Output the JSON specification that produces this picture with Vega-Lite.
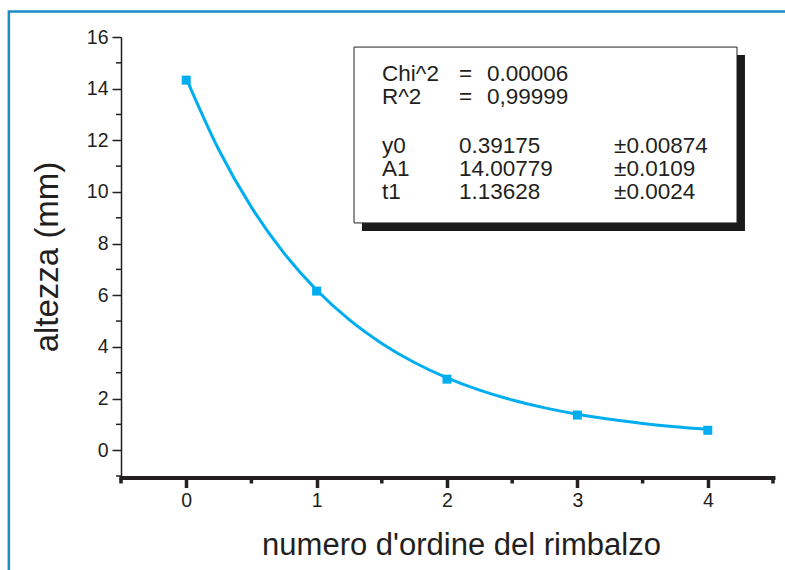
{
  "$schema": "https://vega.github.io/schema/vega-lite/v6.json",
  "autosize": {"type": "none"},
  "padding": {"left": 121, "top": 37, "right": 12, "bottom": 94},
  "width": 652,
  "height": 439,
  "background": "white",
  "config": {
    "view": {"stroke": null},
    "font": "Liberation Sans",
    "axis": {"grid": false, "domainColor": "#231f20", "tickColor": "#231f20", "labelColor": "#231f20", "titleColor": "#231f20", "labelFont": "Liberation Sans", "titleFont": "Liberation Sans", "titleFontWeight": "normal", "labelOverlap": false},
    "text": {"align": "left", "baseline": "alphabetic", "fontSize": 22.5, "lineHeight": 23, "color": "#231f20"}
  },
  "datasets": {
    "points": [
      {"bounce": 0, "height": 14.33},
      {"bounce": 1, "height": 6.16},
      {"bounce": 2, "height": 2.75},
      {"bounce": 3, "height": 1.36},
      {"bounce": 4, "height": 0.77}
    ],
    "fit": [
      {"bounce": 0, "height": 14.40},
      {"bounce": 0.25, "height": 11.633},
      {"bounce": 0.5, "height": 9.413},
      {"bounce": 0.75, "height": 7.631},
      {"bounce": 1, "height": 6.202},
      {"bounce": 1.25, "height": 5.054},
      {"bounce": 1.5, "height": 4.134},
      {"bounce": 1.75, "height": 3.395},
      {"bounce": 2, "height": 2.802},
      {"bounce": 2.25, "height": 2.326},
      {"bounce": 2.5, "height": 1.944},
      {"bounce": 2.75, "height": 1.637},
      {"bounce": 3, "height": 1.391},
      {"bounce": 3.25, "height": 1.194},
      {"bounce": 3.5, "height": 1.036},
      {"bounce": 3.75, "height": 0.908},
      {"bounce": 4, "height": 0.806}
    ],
    "yminor": [
      {"v": -1}, {"v": 1}, {"v": 3}, {"v": 5}, {"v": 7}, {"v": 9}, {"v": 11}, {"v": 13}, {"v": 15}
    ],
    "xminor": [
      {"u": -0.5}, {"u": 0.5}, {"u": 1.5}, {"u": 2.5}, {"u": 3.5}, {"u": 4.5}
    ],
    "one": [{}]
  },
  "layer": [
    {
      "data": {"name": "one"},
      "mark": {"type": "rect", "filled": false, "stroke": "#1b8cc6", "strokeWidth": 2.5},
      "encoding": {
        "x": {"datum": -1.36, "type": "quantitative", "scale": {"domain": [-0.5, 4.5], "nice": false, "zero": false}, "axis": {
          "title": "numero d'ordine del rimbalzo",
          "titleFontSize": 31,
          "titlePadding": 20,
          "titleX": 340,
          "values": [0, 1, 2, 3, 4],
          "format": ".0f",
          "labelFontSize": 19.5,
          "labelPadding": 4,
          "domainWidth": 4,
          "domainCap": "square",
          "offset": 1.5,
          "tickWidth": 3.5,
          "tickSize": 10
        }},
        "x2": {"datum": 5.5},
        "y": {"datum": 16.99, "type": "quantitative", "scale": {"domain": [-1, 16], "nice": false, "zero": false}, "axis": {
          "title": "altezza (mm)",
          "titleFontSize": 33,
          "titlePadding": 22,
          "values": [0, 2, 4, 6, 8, 10, 12, 14, 16],
          "format": ".0f",
          "labelFontSize": 19.5,
          "labelPadding": 4,
          "domainWidth": 1.5,
          "tickWidth": 1.5,
          "tickSize": 9
        }},
        "y2": {"datum": -10}
      }
    },
    {
      "data": {"name": "one"},
      "mark": {"type": "rect", "fill": "#1a1a1a"},
      "encoding": {
        "x": {"datum": 1.348, "type": "quantitative"},
        "x2": {"datum": 4.285},
        "y": {"datum": 15.30, "type": "quantitative"},
        "y2": {"datum": 8.49}
      }
    },
    {
      "data": {"name": "one"},
      "mark": {"type": "rect", "fill": "white", "stroke": "#231f20", "strokeWidth": 1},
      "encoding": {
        "x": {"datum": 1.287, "type": "quantitative"},
        "x2": {"datum": 4.224},
        "y": {"datum": 15.61, "type": "quantitative"},
        "y2": {"datum": 8.80}
      }
    },
    {
      "data": {"name": "one"},
      "mark": {"type": "text", "text": ["Chi^2", "R^2"]},
      "encoding": {"x": {"datum": 1.502, "type": "quantitative"}, "y": {"datum": 14.307, "type": "quantitative"}}
    },
    {
      "data": {"name": "one"},
      "mark": {"type": "text", "text": ["=", "="]},
      "encoding": {"x": {"datum": 2.092, "type": "quantitative"}, "y": {"datum": 14.307, "type": "quantitative"}}
    },
    {
      "data": {"name": "one"},
      "mark": {"type": "text", "text": ["0.00006", "0,99999"]},
      "encoding": {"x": {"datum": 2.307, "type": "quantitative"}, "y": {"datum": 14.307, "type": "quantitative"}}
    },
    {
      "data": {"name": "one"},
      "mark": {"type": "text", "text": ["y0", "A1", "t1"]},
      "encoding": {"x": {"datum": 1.502, "type": "quantitative"}, "y": {"datum": 11.507, "type": "quantitative"}}
    },
    {
      "data": {"name": "one"},
      "mark": {"type": "text", "text": ["0.39175", "14.00779", "1.13628"]},
      "encoding": {"x": {"datum": 2.092, "type": "quantitative"}, "y": {"datum": 11.507, "type": "quantitative"}}
    },
    {
      "data": {"name": "one"},
      "mark": {"type": "text", "text": ["±0.00874", "±0.0109", "±0.0024"]},
      "encoding": {"x": {"datum": 3.281, "type": "quantitative"}, "y": {"datum": 11.507, "type": "quantitative"}}
    },
    {
      "data": {"name": "yminor"},
      "mark": {"type": "tick", "orient": "horizontal", "size": 5, "thickness": 1.5, "color": "#231f20", "opacity": 1, "xOffset": -2.5},
      "encoding": {
        "x": {"datum": -0.5, "type": "quantitative"},
        "y": {"field": "v", "type": "quantitative"}
      }
    },
    {
      "data": {"name": "xminor"},
      "mark": {"type": "tick", "orient": "vertical", "size": 6, "thickness": 3.5, "color": "#231f20", "opacity": 1, "yOffset": 4.5},
      "encoding": {
        "x": {"field": "u", "type": "quantitative"},
        "y": {"datum": -1, "type": "quantitative"}
      }
    },
    {
      "data": {"name": "fit"},
      "mark": {"type": "line", "color": "#00aeef", "strokeWidth": 3, "interpolate": "monotone"},
      "encoding": {
        "x": {"field": "bounce", "type": "quantitative"},
        "y": {"field": "height", "type": "quantitative"}
      }
    },
    {
      "data": {"name": "points"},
      "mark": {"type": "square", "color": "#00aeef", "opacity": 1, "filled": true, "size": 81},
      "encoding": {
        "x": {"field": "bounce", "type": "quantitative"},
        "y": {"field": "height", "type": "quantitative"}
      }
    }
  ]
}
